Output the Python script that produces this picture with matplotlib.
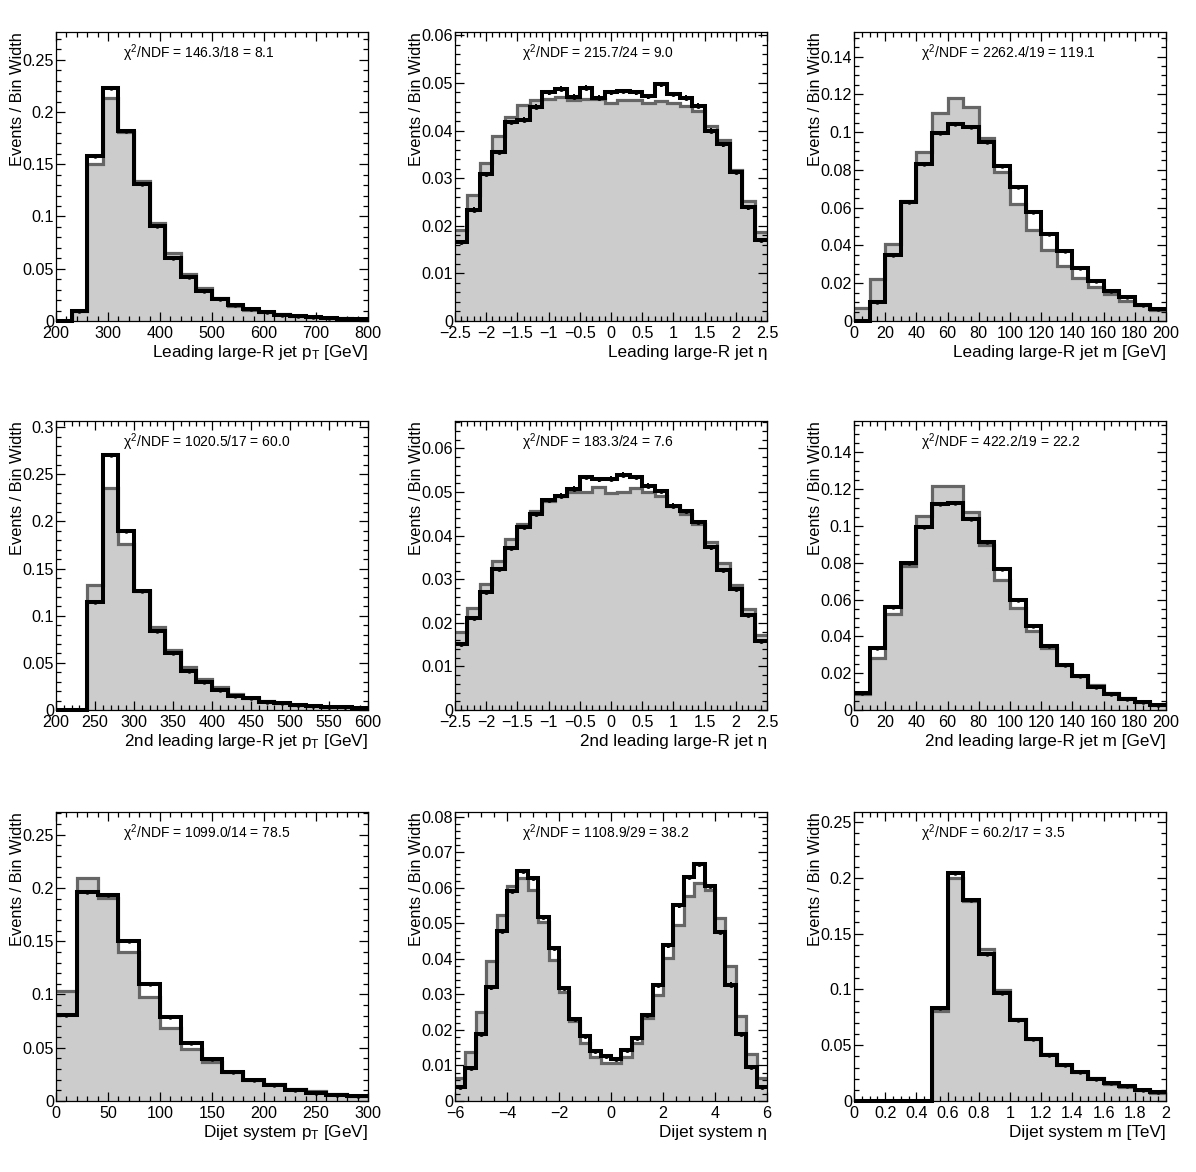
import numpy as np
import matplotlib
matplotlib.use('Agg')
import matplotlib.pyplot as plt
from matplotlib.ticker import MultipleLocator, FuncFormatter

plt.rcParams['font.family'] = ['Liberation Sans', 'DejaVu Sans']
plt.rcParams['mathtext.fontset'] = 'custom'
plt.rcParams['mathtext.rm'] = 'Liberation Sans'
plt.rcParams['mathtext.it'] = 'Liberation Sans'
plt.rcParams['mathtext.bf'] = 'Liberation Sans:bold'

# ---------------- data ----------------
# Leading large-R jet pT (200-800 GeV, 20 bins)
lead_pt_mc = [0.0, 0.0096, 0.150, 0.2135, 0.1806, 0.1336, 0.094, 0.0649, 0.0448, 0.0313,
              0.0224, 0.0147, 0.0109, 0.0083, 0.0064, 0.0051, 0.0042, 0.0032, 0.0026, 0.0022]
lead_pt_data = [0.0, 0.0096, 0.1576, 0.2225, 0.1819, 0.1311, 0.0905, 0.0607, 0.0422, 0.0288,
                0.0208, 0.0153, 0.0112, 0.0083, 0.0058, 0.0045, 0.0038, 0.0032, 0.0022, 0.0019]

# Leading large-R jet eta (-2.5..2.5, 25 bins)
lead_eta_mc = [0.0191, 0.0264, 0.0331, 0.0388, 0.0429, 0.0453, 0.0465, 0.0467, 0.0470, 0.0464,
               0.0466, 0.0466, 0.0457, 0.0464, 0.0464, 0.0458, 0.0462, 0.0458, 0.0451, 0.0442,
               0.0409, 0.0381, 0.0317, 0.0252, 0.0187]
lead_eta_data = [0.0166, 0.0234, 0.0309, 0.0355, 0.0418, 0.0423, 0.0450, 0.0480, 0.0488, 0.0471,
                 0.0490, 0.0469, 0.0480, 0.0483, 0.0480, 0.0472, 0.0497, 0.0477, 0.0469, 0.0452,
                 0.0400, 0.0371, 0.0313, 0.0239, 0.0170]

# Leading large-R jet mass (0-200 GeV, 20 bins)
lead_m_mc = [0.0067, 0.0221, 0.0407, 0.0636, 0.0893, 0.110, 0.1179, 0.1131, 0.0967, 0.0789,
             0.0622, 0.0483, 0.0378, 0.0292, 0.0230, 0.0182, 0.0141, 0.0106, 0.0083, 0.0060]
lead_m_data = [0.0, 0.0101, 0.0348, 0.0631, 0.0831, 0.0993, 0.1043, 0.1025, 0.0949, 0.0818,
               0.0711, 0.0576, 0.0463, 0.0371, 0.0279, 0.0210, 0.0159, 0.0126, 0.0083, 0.0065]

# 2nd leading large-R jet pT (200-600 GeV, 20 bins)
sub_pt_mc = [0.0, 0.0, 0.1328, 0.2359, 0.1758, 0.126, 0.0883, 0.0636, 0.0452, 0.0325,
             0.0240, 0.0169, 0.0131, 0.0099, 0.0078, 0.0056, 0.0046, 0.0035, 0.0032, 0.0025]
sub_pt_data = [0.0, 0.0, 0.1148, 0.2701, 0.1896, 0.1261, 0.0840, 0.0600, 0.0410, 0.0300,
               0.0215, 0.0148, 0.0127, 0.0088, 0.0071, 0.0056, 0.0042, 0.0035, 0.0028, 0.0025]

# 2nd leading large-R jet eta (-2.5..2.5, 25 bins)
sub_eta_mc = [0.0179, 0.0234, 0.0290, 0.0341, 0.0393, 0.0427, 0.0456, 0.0479, 0.0491, 0.0501,
              0.0501, 0.0512, 0.0498, 0.0501, 0.0510, 0.0500, 0.0492, 0.0469, 0.0450, 0.0427,
              0.0386, 0.0337, 0.0287, 0.0232, 0.0173]
sub_eta_data = [0.0151, 0.0211, 0.0270, 0.0324, 0.0372, 0.0420, 0.0450, 0.0482, 0.0492, 0.0508,
                0.0535, 0.0529, 0.0531, 0.0540, 0.0535, 0.0515, 0.0502, 0.0469, 0.0456, 0.0432,
                0.0373, 0.0321, 0.0278, 0.0218, 0.0159]

# 2nd leading large-R jet mass (0-200 GeV, 20 bins)
sub_m_mc = [0.0085, 0.0282, 0.0524, 0.0782, 0.1055, 0.1215, 0.1215, 0.1073, 0.0895, 0.0705,
            0.0555, 0.0431, 0.0336, 0.0245, 0.0185, 0.0136, 0.0095, 0.0065, 0.0044, 0.0029]
sub_m_data = [0.0095, 0.0336, 0.0560, 0.0800, 0.0995, 0.1118, 0.1124, 0.1036, 0.0915, 0.0767,
              0.0595, 0.0458, 0.0345, 0.0245, 0.0182, 0.0127, 0.0087, 0.0058, 0.0042, 0.0025]

# Dijet system pT (0-300 GeV, 15 bins)
jj_pt_mc = [0.1029, 0.2092, 0.1904, 0.1402, 0.0972, 0.0681, 0.0492, 0.0367, 0.0273, 0.0201,
            0.0157, 0.0116, 0.0091, 0.0066, 0.0050]
jj_pt_data = [0.0806, 0.1960, 0.1935, 0.1506, 0.1095, 0.0790, 0.0549, 0.0392, 0.0273, 0.0194,
              0.0147, 0.0100, 0.0075, 0.0053, 0.0044]

# Dijet system eta (-6..6, 30 bins)
jj_eta_mc = [0.0066, 0.0137, 0.0251, 0.0393, 0.0525, 0.0605, 0.0628, 0.0595, 0.0504, 0.0398,
             0.0306, 0.0226, 0.0163, 0.0125, 0.0106, 0.0108, 0.0125, 0.0162, 0.0235, 0.0298,
             0.0403, 0.0497, 0.0576, 0.0614, 0.0595, 0.0515, 0.0379, 0.0240, 0.0132, 0.0066]
jj_eta_data = [0.0040, 0.0092, 0.0188, 0.0320, 0.0478, 0.0591, 0.0647, 0.0628, 0.0518, 0.0431,
               0.0318, 0.0231, 0.0184, 0.0141, 0.0127, 0.0118, 0.0143, 0.0177, 0.0243, 0.0327,
               0.0438, 0.0551, 0.0631, 0.0667, 0.0605, 0.0476, 0.0328, 0.0188, 0.0096, 0.0040]

# Dijet system mass (0-2 TeV, 20 bins)
jj_m_mc = [0.0, 0.0, 0.0, 0.0, 0.0, 0.0803, 0.2001, 0.1792, 0.1365, 0.0998,
           0.0738, 0.0559, 0.0424, 0.0320, 0.0260, 0.0206, 0.0149, 0.0125, 0.0102, 0.0072]
jj_m_data = [0.0, 0.0, 0.0, 0.0, 0.0, 0.0836, 0.2046, 0.1798, 0.1320, 0.0968,
             0.0723, 0.0559, 0.0409, 0.0320, 0.0260, 0.0200, 0.0161, 0.0131, 0.0102, 0.0081]

chi2_labels = ["146.3/18 = 8.1", "215.7/24 = 9.0", "2262.4/19 = 119.1",
               "1020.5/17 = 60.0", "183.3/24 = 7.6", "422.2/19 = 22.2",
               "1099.0/14 = 78.5", "1108.9/29 = 38.2", "60.2/17 = 3.5"]

x_titles = ["Leading large-R jet p$_{\\mathrm{T}}$ [GeV]",
            "Leading large-R jet \u03b7",
            "Leading large-R jet m [GeV]",
            "2nd leading large-R jet p$_{\\mathrm{T}}$ [GeV]",
            "2nd leading large-R jet \u03b7",
            "2nd leading large-R jet m [GeV]",
            "Dijet system p$_{\\mathrm{T}}$ [GeV]",
            "Dijet system \u03b7",
            "Dijet system m [TeV]"]

# ---------------- layout / style ----------------
panels = [
    dict(mc=lead_pt_mc, data=lead_pt_data, xr=(200, 800), ymax=0.2765, xmaj=100, xmin=20, ymaj=0.05, ymin=0.01, err=None),
    dict(mc=lead_eta_mc, data=lead_eta_data, xr=(-2.5, 2.5), ymax=0.0607, xmaj=0.5, xmin=0.1, ymaj=0.01, ymin=0.002, err=0.0005),
    dict(mc=lead_m_mc, data=lead_m_data, xr=(0, 200), ymax=0.153, xmaj=20, xmin=5, ymaj=0.02, ymin=0.005, err=None),
    dict(mc=sub_pt_mc, data=sub_pt_data, xr=(200, 600), ymax=0.3065, xmaj=50, xmin=10, ymaj=0.05, ymin=0.01, err=None),
    dict(mc=sub_eta_mc, data=sub_eta_data, xr=(-2.5, 2.5), ymax=0.0663, xmaj=0.5, xmin=0.1, ymaj=0.01, ymin=0.002, err=0.0005),
    dict(mc=sub_m_mc, data=sub_m_data, xr=(0, 200), ymax=0.157, xmaj=20, xmin=5, ymaj=0.02, ymin=0.005, err=None),
    dict(mc=jj_pt_mc, data=jj_pt_data, xr=(0, 300), ymax=0.2713, xmaj=50, xmin=10, ymaj=0.05, ymin=0.01, err=None),
    dict(mc=jj_eta_mc, data=jj_eta_data, xr=(-6, 6), ymax=0.0814, xmaj=2, xmin=0.5, ymaj=0.01, ymin=0.002, err=0.0006),
    dict(mc=jj_m_mc, data=jj_m_data, xr=(0, 2), ymax=0.259, xmaj=0.2, xmin=0.05, ymaj=0.05, ymin=0.01, err=None),
]


def root_fmt(v, pos=None):
    if abs(v) < 1e-9:
        return "0"
    s = "%g" % round(v, 6)
    return s.replace("-", "\u2212")


W, H = 1196, 1172
fig = plt.figure(figsize=(W / 100, H / 100), dpi=100)
col_left = [56, 455, 854]
row_top = [32, 421, 812]
ax_w, ax_h = 312, 289

for i, p in enumerate(panels):
    r, c = divmod(i, 3)
    left = col_left[c] / W
    bottom = (H - row_top[r] - ax_h) / H
    ax = fig.add_axes([left, bottom, ax_w / W, ax_h / H])
    mc = np.array(p['mc'])
    data = np.array(p['data'])
    edges = np.linspace(p['xr'][0], p['xr'][1], len(mc) + 1)
    centers = 0.5 * (edges[1:] + edges[:-1])

    ax.stairs(mc, edges, fill=True, color='#cccccc', zorder=1)
    ax.stairs(mc, edges, baseline=None, color='#666666', lw=2.3, zorder=2)
    ax.stairs(data, edges, baseline=None, color='black', lw=2.9, zorder=3, clip_on=False)
    mask = data > 0
    if p['err'] is not None:
        ax.errorbar(centers[mask], data[mask], yerr=p['err'], fmt='o', ms=2.5, color='black',
                    elinewidth=1.4, capsize=0, zorder=4)
    else:
        ax.plot(centers[mask], data[mask], 'o', ms=2.2, color='black', zorder=4)

    ax.set_xlim(*p['xr'])
    ax.set_ylim(0, p['ymax'])
    ax.xaxis.set_major_locator(MultipleLocator(p['xmaj']))
    ax.xaxis.set_minor_locator(MultipleLocator(p['xmin']))
    ax.yaxis.set_major_locator(MultipleLocator(p['ymaj']))
    ax.yaxis.set_minor_locator(MultipleLocator(p['ymin']))
    ax.xaxis.set_major_formatter(FuncFormatter(root_fmt))
    ax.yaxis.set_major_formatter(FuncFormatter(root_fmt))
    ax.tick_params(which='both', direction='in', top=True, right=True, width=0.9)
    ax.tick_params(which='major', length=6.5, labelsize=11.6)
    ax.tick_params(which='minor', length=3.5)
    ax.tick_params(axis='x', which='major', pad=3.5)
    ax.tick_params(axis='y', which='major', pad=1.5)
    for s in ax.spines.values():
        s.set_linewidth(0.9)
        s.set_zorder(5)

    ax.text(0.214, 0.927, "\u03c7$^{2}$/NDF = " + chi2_labels[i], transform=ax.transAxes,
            ha='left', va='center', fontsize=10, zorder=6)
    ax.text(1.0, -0.125, x_titles[i], transform=ax.transAxes, ha='right', va='baseline',
            fontsize=12.3)
    ax.text(-0.122, 1.0, "Events / Bin Width", transform=ax.transAxes, rotation=90,
            ha='center', va='top', fontsize=11.8)

fig.savefig('out.png', dpi=100)
